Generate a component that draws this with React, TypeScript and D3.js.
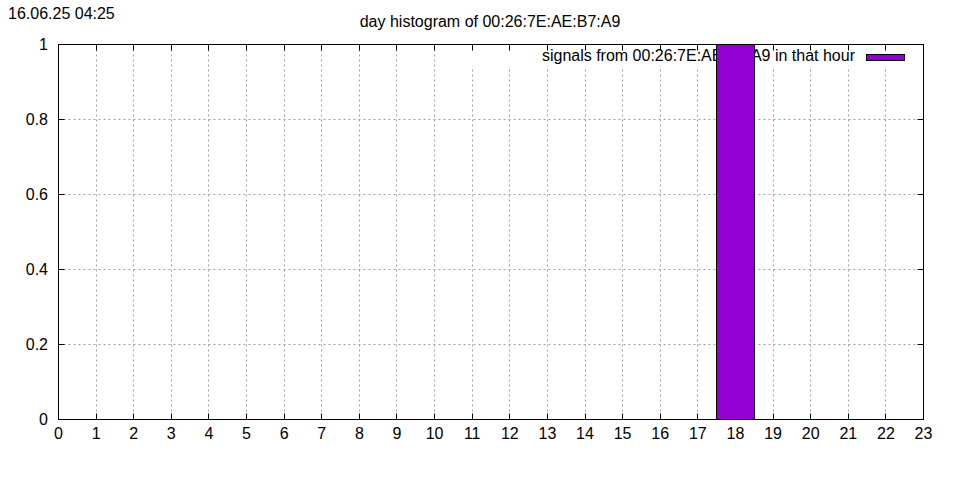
import React from "react";
import * as d3 from "d3";

const hours = d3.range(0, 24);
const counts = [0, 0, 0, 0, 0, 0, 0, 0, 0, 0, 0, 0, 0, 0, 0, 0, 0, 0, 1, 0, 0, 0, 0, 0];
const yTicks = [0, 0.2, 0.4, 0.6, 0.8, 1];
const xTicks = d3.range(0, 24);
const title = "day histogram of 00:26:7E:AE:B7:A9";
const stamp = "16.06.25 04:25";
const legendLabel = "signals from 00:26:7E:AE:B7:A9 in that hour";

const W = 960, H = 480;
const L = 58.5, R = 923.5, T = 44.5, B = 419.5;
const FONT = "'Liberation Sans', Arial, sans-serif";
const BAR = "#9400D3";

export default function App() {
  const x = d3.scaleLinear().domain([0, 23]).range([L, R]);
  const y = d3.scaleLinear().domain([0, 1]).range([B, T]);
  const px = (v: number) => Math.round(x(v) - 0.5) + 0.5;
  const py = (v: number) => Math.round(y(v) - 0.5) + 0.5;
  return (
    <svg width={W} height={H} style={{ position: "absolute", left: 0, top: 0, background: "#fff" }} fontFamily={FONT}>
      <rect width={W} height={H} fill="#fff" />
      {xTicks.slice(1, -1).map((t) => (
        <line key={"gx" + t} x1={px(t)} x2={px(t)} y1={T} y2={B} stroke="#a0a0a0" strokeDasharray="2,3" strokeWidth={1} />
      ))}
      {yTicks.slice(1, -1).map((t) => (
        <line key={"gy" + t} x1={L} x2={R} y1={py(t)} y2={py(t)} stroke="#a0a0a0" strokeDasharray="2,3" strokeWidth={1} />
      ))}
      <rect x={462} y={T + 1} width={452} height={21} fill="#fff" />
      <text x={855} y={61} fontSize={16} textAnchor="end" fill="#000">{legendLabel}</text>
      <rect x={866.5} y={54.5} width={38} height={6} fill={BAR} stroke="#000" strokeWidth={1} />
      {xTicks.map((t) => (
        <g key={"tx" + t}>
          <line x1={px(t)} x2={px(t)} y1={B} y2={B - 6} stroke="#000" />
          <line x1={px(t)} x2={px(t)} y1={T} y2={T + 6} stroke="#000" />
          <text x={x(t)} y={439} fontSize={16} textAnchor="middle" fill="#000">{t}</text>
        </g>
      ))}
      {yTicks.map((t) => (
        <g key={"ty" + t}>
          <line x1={L} x2={L + 6} y1={py(t)} y2={py(t)} stroke="#000" />
          <line x1={R} x2={R - 6} y1={py(t)} y2={py(t)} stroke="#000" />
          <text x={48} y={y(t) + 5.5} fontSize={16} textAnchor="end" fill="#000">{t}</text>
        </g>
      ))}
      {hours.map((h, i) =>
        counts[i] > 0 ? (
          <rect key={"b" + h} x={px(h - 0.5)} y={py(counts[i])} width={px(h + 0.5) - px(h - 0.5)} height={py(0) - py(counts[i])} fill={BAR} stroke="#000" strokeWidth={1} />
        ) : null
      )}
      <rect x={L} y={T} width={R - L} height={B - T} fill="none" stroke="#000" strokeWidth={1} />
      <text x={490} y={27} fontSize={16} textAnchor="middle" fill="#000">{title}</text>
      <text x={8} y={19} fontSize={16} fill="#000">{stamp}</text>
    </svg>
  );
}
